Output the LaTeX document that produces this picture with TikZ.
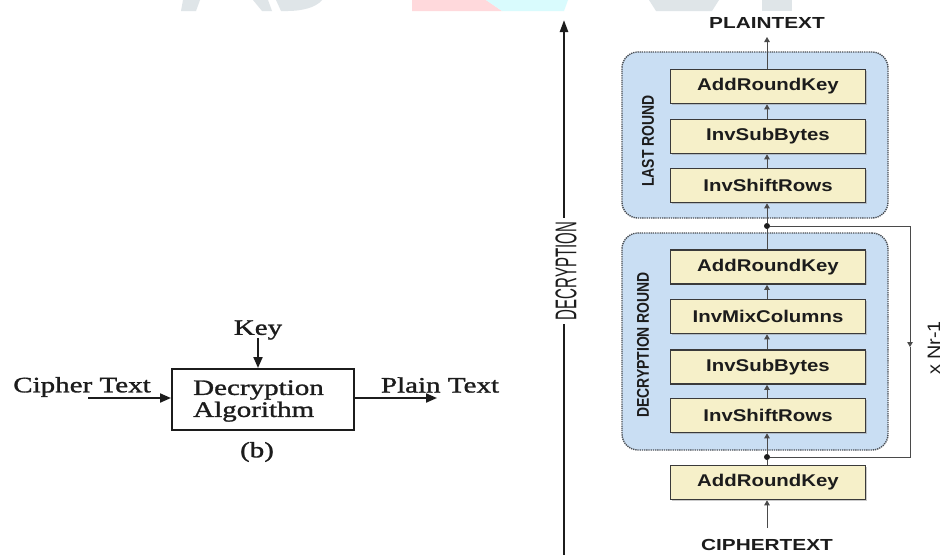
\documentclass[tikz,border=0pt]{standalone}
\usepackage{fontspec}
\setmainfont{Liberation Serif}
\usetikzlibrary{arrows.meta,shadows}
\newfontfamily\algfont[FakeStretch=1.32,FakeBold=1.3]{Liberation Serif}
\newfontfamily\stepfont[FakeStretch=1.2]{Liberation Sans}
\newfontfamily\titlefont[FakeStretch=1.3]{Liberation Sans}
\newfontfamily\sidefont[FakeStretch=0.82]{Liberation Sans}
\newfontfamily\dirfont[FakeStretch=0.5]{Liberation Sans}
\newfontfamily\loopfont[FakeStretch=1.1]{Liberation Sans}

\definecolor{ink}{HTML}{1C1C1C}
\definecolor{stepfill}{HTML}{F6F0C9}
\definecolor{boxedge}{HTML}{3A3A3A}
\definecolor{roundfill}{HTML}{C9DEF3}
\definecolor{dotedge}{HTML}{4A4F55}
\definecolor{flowgray}{HTML}{4A4A4A}
\definecolor{wmgray}{HTML}{DFE5E8}
\definecolor{wmpink}{HTML}{FFD9DC}
\definecolor{wmcyan}{HTML}{D9FBFD}

\tikzset{
  algtext/.style={font=\algfont\fontsize{22}{22}\selectfont, text=ink, inner sep=0pt},
  algbox/.style={draw=ink, line width=2pt, minimum width=182pt, minimum height=61pt, inner sep=0pt},
  arr/.style={draw=ink, line width=2pt, -{Triangle[length=11pt,width=9pt]}},
  stepbox/.style={draw=boxedge, line width=1.6pt, fill=stepfill,
    minimum width=195pt, minimum height=34pt, inner sep=0pt,
    drop shadow={shadow xshift=1.2pt, shadow yshift=-1.2pt, fill=black!40},
    font=\stepfont\bfseries\fontsize{17}{20}\selectfont, text=ink},
  roundbox/.style={draw=dotedge, fill=roundfill, line width=1.4pt,
    dash pattern=on 1.3pt off 0.9pt, rounded corners=16pt,
    minimum width=266pt, inner sep=0pt},
  flow/.style={draw=flowgray, line width=1pt},
  flowarr/.style={flow, -{Triangle[length=5pt,width=5.5pt]}},
  jdot/.style={circle, fill=ink, minimum size=6pt, inner sep=0pt},
  sidelabel/.style={rotate=90, font=\sidefont\bfseries\fontsize{17}{20}\selectfont, text=ink, inner sep=0pt},
  endlabel/.style={font=\titlefont\bfseries\fontsize{16}{18}\selectfont, text=ink, inner sep=0pt},
}

\begin{document}
\begin{tikzpicture}[x=1pt,y=-1pt]
\useasboundingbox[fill=white] (0,0) rectangle (944,554);

% faint shapes along the top edge
\fill[wmgray] (183,0) -- (200,0) -- (196,11) -- (181,11) -- cycle;
\fill[wmgray] (253,0) -- (268,0) -- (272,11) -- (262,11) -- cycle;
\fill[wmgray] (276,0) -- (322,0) .. controls (316,8) and (300,11) .. (288,11) -- (281,11) -- cycle;
\fill[wmpink] (412,0) -- (486,0) -- (502,11) -- (412,11) -- cycle;
\fill[wmcyan] (486,0) -- (568,0) -- (564,11) -- (502,11) -- cycle;
\fill[wmgray] (649,0) -- (719,0) -- (712,11) -- (656,11) -- cycle;
\fill[wmgray] (762,0) -- (792,0) -- (792,11) -- (762,11) -- cycle;

% ---------------- block diagram (b) ----------------
\node[algbox] (alg) at (263,399.5) {};
\node[algtext, anchor=west, align=left] (algtxt) at (193,401) {Decryption\\Algorithm};
\node[algtext] (key) at (258,330) {Key};
\node[algtext] (cipher) at (82,387) {Cipher Text};
\node[algtext] (plain) at (440,385) {Plain Text};
\node[algtext] (caption) at (257,452) {(b)};
\coordinate (cstart) at (88,398);
\coordinate (pend) at (437,398);
\draw[arr] (key.south) ++(0,-2) -- (key.south |- alg.north);
\draw[arr] (cstart) -- (cstart -| alg.west);
\draw[arr] (pend -| alg.east) -- (pend);

% ---------------- AES decryption ----------------
% direction arrow
\node[rotate=90, font=\dirfont\fontsize{30}{30}\selectfont, text=ink, inner xsep=4pt, inner ysep=0pt] (dec) at (566,271) {DECRYPTION};
\coordinate (dtop) at (564,20);
\coordinate (dbot) at (564,560);
\draw[draw=ink, line width=2.4pt, -{Triangle[length=12pt,width=8pt]}] (dec.east -| dtop) -- (dtop);
\draw[draw=ink, line width=2.4pt] (dec.west -| dbot) -- (dbot);

% round containers
\node[roundbox, minimum height=166pt] (lastround) at (755,135) {};
\node[roundbox, minimum height=217pt] (decround) at (755,341.5) {};
\node[sidelabel] (lastlbl) at (648,141) {LAST ROUND};
\node[sidelabel] (declbl) at (643,345) {DECRYPTION ROUND};

% steps
\node[stepbox] (lr1) at (768,86.5) {AddRoundKey};
\node[stepbox] (lr2) at (768,136.5) {InvSubBytes};
\node[stepbox] (lr3) at (768,185.5) {InvShiftRows};
\node[stepbox] (dr1) at (768,267) {AddRoundKey};
\node[stepbox] (dr2) at (768,316.5) {InvMixColumns};
\node[stepbox] (dr3) at (768,367) {InvSubBytes};
\node[stepbox] (dr4) at (768,415.5) {InvShiftRows};
\node[stepbox] (init) at (768,482.5) {AddRoundKey};

% input / output labels
\node[endlabel] (plaintext) at (767,23) {PLAINTEXT};
\node[endlabel] (ciphertext) at (767,545) {CIPHERTEXT};
\coordinate (pin) at (767,37);
\coordinate (cin) at (767,528);

% junctions of the round loop
\node[jdot] (j1) at (767,226) {};
\node[jdot] (j2) at (767,457) {};

% data flow
\draw[flowarr] (cin) -- (cin |- init.south);
\draw[flow] (init.north -| j2) -- (j2);
\draw[flowarr] (j2) -- (j2 |- dr4.south);
\draw[flowarr] (dr4.north -| j2) -- (j2 |- dr3.south);
\draw[flowarr] (dr3.north -| j2) -- (j2 |- dr2.south);
\draw[flowarr] (dr2.north -| j2) -- (j2 |- dr1.south);
\draw[flow] (dr1.north -| j1) -- (j1);
\draw[flowarr] (j1) -- (j1 |- lr3.south);
\draw[flowarr] (lr3.north -| j1) -- (j1 |- lr2.south);
\draw[flowarr] (lr2.north -| j1) -- (j1 |- lr1.south);
\draw[flowarr] (lr1.north -| j1) -- (pin);

% repeat loop
\coordinate (lt) at (910,226);
\coordinate (lm) at (910,347);
\coordinate (lb) at (910,457);
\draw[flowarr] (j1) -- (lt) -- (lm);
\draw[flow] (lm) -- (lb) -- (j2);
\node[rotate=90, font=\loopfont\fontsize{18}{20}\selectfont, text=ink, inner sep=0pt] (nr) at (934,348) {x Nr-1};
\end{tikzpicture}
\end{document}
